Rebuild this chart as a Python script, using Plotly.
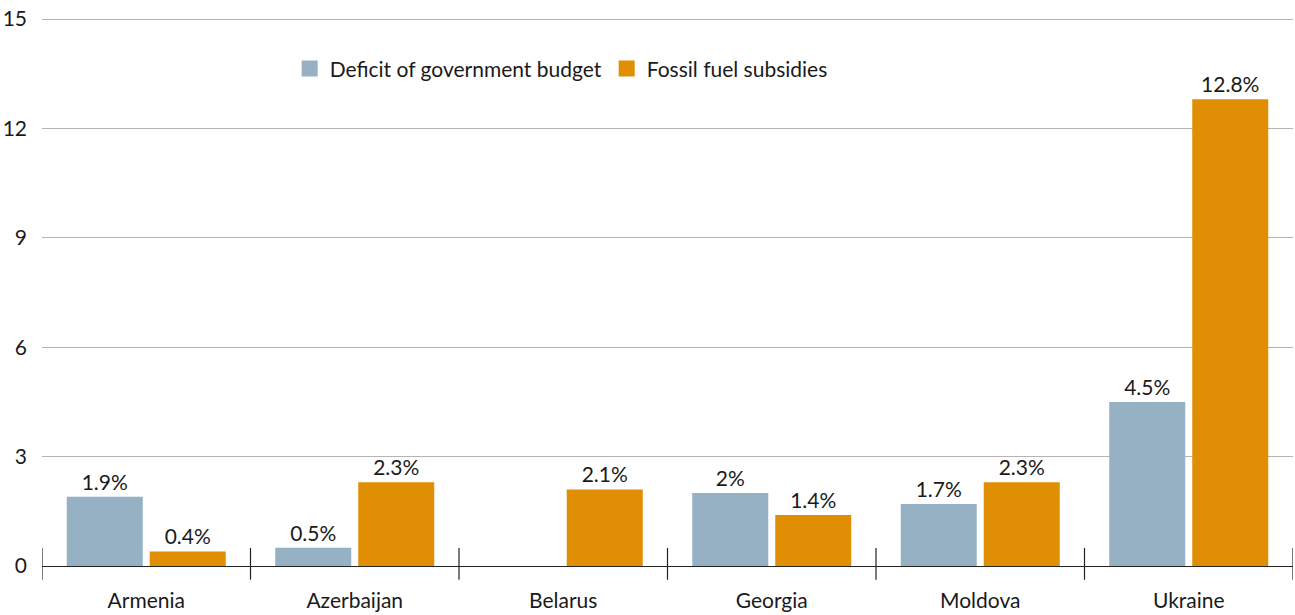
import plotly.graph_objects as go

countries = ["Armenia", "Azerbaijan", "Belarus", "Georgia", "Moldova", "Ukraine"]
deficit = [1.9, 0.5, None, 2.0, 1.7, 4.5]
subsidies = [0.4, 2.3, 2.1, 1.4, 2.3, 12.8]
deficit_labels = ["1.9%", "0.5%", "", "2%", "1.7%", "4.5%"]
subsidy_labels = ["0.4%", "2.3%", "2.1%", "1.4%", "2.3%", "12.8%"]
series_names = ["Deficit of government budget", "Fossil fuel subsidies"]
series_colors = ["#95B1C3", "#E08E04"]
y_ticks = [0, 3, 6, 9, 12, 15]

FONT = "Lato"
FS = 21
fig = go.Figure()
for vals, labels, name, color in [(deficit, deficit_labels, series_names[0], series_colors[0]),
                                  (subsidies, subsidy_labels, series_names[1], series_colors[1])]:
    fig.add_trace(go.Bar(
        x=countries, y=vals, name=name, showlegend=False,
        marker=dict(color=color, line=dict(width=0)),
        text=labels, textposition="outside", cliponaxis=False,
        textfont=dict(size=FS, color="#1a1a1a", family=FONT),
        hoverinfo="skip",
    ))
# legend entries with larger square swatches
for name, color in zip(series_names, series_colors):
    fig.add_trace(go.Scatter(
        x=[None], y=[None], mode="markers", name=name,
        marker=dict(symbol="square", size=18, color=color),
    ))

shapes = []
for i in range(len(countries) + 1):
    shapes.append(dict(type="line", xref="x", yref="paper",
                       x0=i - 0.5, x1=i - 0.5, y0=0.033, y1=-0.025,
                       line=dict(color="#222222", width=1.2)))

fig.update_layout(
    width=1295, height=615,
    margin=dict(l=42, r=2, t=18, b=49),
    paper_bgcolor="white", plot_bgcolor="white",
    barmode="group", bargap=0.204, bargroupgap=0.084,
    font=dict(family=FONT, size=FS, color="#1a1a1a"),
    legend=dict(orientation="h", x=0.198, y=0.907, xanchor="left", yanchor="middle",
                font=dict(size=FS, family=FONT), itemwidth=30, bgcolor="rgba(0,0,0,0)",
                traceorder="normal", tracegroupgap=0),
    shapes=shapes,
)
fig.update_xaxes(showgrid=False, ticks="", showline=False, ticklabelstandoff=20,
                 tickfont=dict(size=FS, family=FONT), range=[-0.5, 5.5], automargin=False)
fig.update_yaxes(range=[0, 15.03], tickvals=y_ticks, showgrid=True, gridcolor="#b4b4b4",
                 gridwidth=1, zeroline=True, zerolinecolor="#222222", zerolinewidth=1.2,
                 ticks="", ticklabelstandoff=14, tickfont=dict(size=FS, family=FONT),
                 showline=False, automargin=False)
fig.write_html("out.html", config={"displayModeBar": False},
               post_script="document.body.style.margin='0';")
